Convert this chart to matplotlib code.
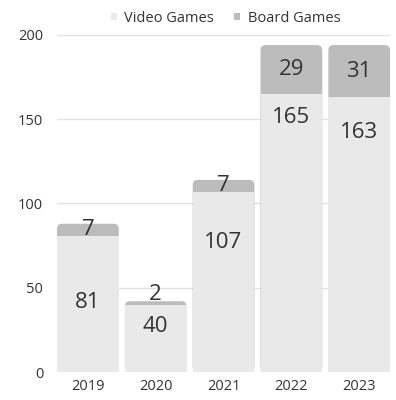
import matplotlib
matplotlib.use("Agg")
import matplotlib.pyplot as plt
from matplotlib.patches import FancyBboxPatch, Patch

years = ["2019", "2020", "2021", "2022", "2023"]
video_games = [81, 40, 107, 165, 163]
board_games = [7, 2, 7, 29, 31]
y_ticks = [0, 50, 100, 150, 200]

# where the video-game numbers sit inside their bars (data units)
video_label_y = [41, 27, 77, 151, 142]

VIDEO_COLOR = "#e9e9e9"
BOARD_COLOR = "#bcbcbc"
TEXT_COLOR = "#333333"
FONT = ["Open Sans", "DejaVu Sans"]

plt.rcParams["font.family"] = FONT

fig = plt.figure(figsize=(3.96, 4.0), dpi=100)
ax = fig.add_axes([0.144, 0.07, 0.841, 0.8425])

width = 0.91
x = list(range(len(years)))
totals = [v + b for v, b in zip(video_games, board_games)]

ax.set_xlim(-width / 2, len(years) - 1 + width / 2)
ax.set_ylim(0, 200)

for yt in y_ticks[1:]:
    ax.axhline(yt, color="#e2e2e2", lw=1.0, zorder=0)

# full stacked height drawn first with rounded top corners
px_per_x = 0.841 * 396 / (len(years) - 1 + width)
px_per_y = 0.8425 * 400 / 200
aspect = px_per_x / px_per_y
stack = ax.bar(x, totals, width=width, color=BOARD_COLOR, zorder=1)
for rect in stack.patches:
    x0, y0 = rect.get_xy()
    w, h = rect.get_width(), rect.get_height()
    rect.set_visible(False)
    ax.add_patch(FancyBboxPatch((x0, y0), w, h,
                                boxstyle="round,pad=0,rounding_size=0.075",
                                mutation_aspect=aspect,
                                facecolor=BOARD_COLOR, edgecolor="none",
                                zorder=1))

ax.bar(x, video_games, width=width, color=VIDEO_COLOR, zorder=2)

for i in x:
    ax.text(i, video_label_y[i], str(video_games[i]), ha="center", va="center",
            fontsize=16, color=TEXT_COLOR, zorder=3)
    mid = video_games[i] + board_games[i] / 2
    if board_games[i] < 5:
        mid = totals[i] + 3.8
    ax.text(i, mid, str(board_games[i]), ha="center", va="center",
            fontsize=16, color=TEXT_COLOR, zorder=3)

ax.set_xticks(x)
ax.set_xticklabels(years)
ax.set_yticks(y_ticks)
ax.tick_params(axis="both", length=0, labelsize=10.5, colors=TEXT_COLOR)
ax.tick_params(axis="x", pad=5)
ax.tick_params(axis="y", pad=10)
for s in ax.spines.values():
    s.set_visible(False)

handles = [Patch(facecolor=VIDEO_COLOR, edgecolor="none", label="Video Games"),
           Patch(facecolor=BOARD_COLOR, edgecolor="none", label="Board Games")]
fig.legend(handles=handles, loc="center", bbox_to_anchor=(0.57, 0.955), ncol=2,
           frameon=False, fontsize=10.5, handlelength=0.4, handleheight=0.4,
           handletextpad=0.5, columnspacing=1.4, labelcolor=TEXT_COLOR)

fig.savefig("out.png", dpi=100, facecolor="white")
